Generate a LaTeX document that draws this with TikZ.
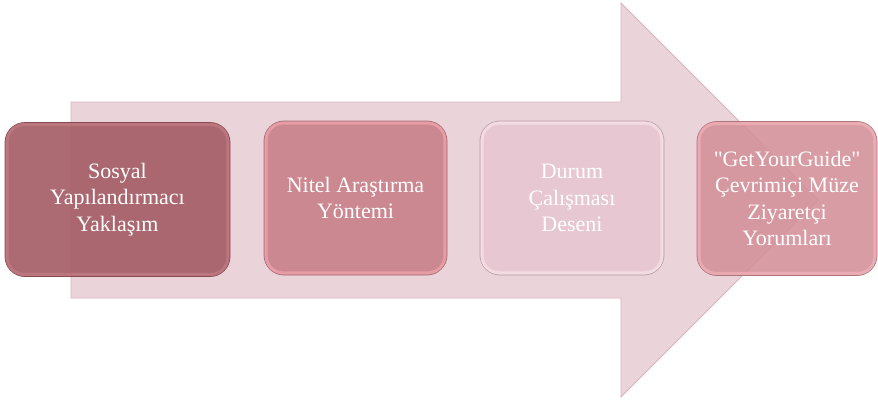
\documentclass[tikz,border=0pt]{standalone}
\usepackage{fontspec}
\setmainfont{Liberation Serif}[Ligatures=TeXOff]
\usetikzlibrary{positioning}
\definecolor{arrowpink}{HTML}{E8CBD3}
\definecolor{arrowedge}{HTML}{D9B3BE}
\definecolor{boxone}{HTML}{A65F67}
\definecolor{boxtwo}{HTML}{CB8890}
\definecolor{boxthree}{HTML}{E7C7D1}
\definecolor{boxfour}{HTML}{D4929A}
\definecolor{rimone}{HTML}{C27A82}
\definecolor{rimtwo}{HTML}{EFA3AB}
\definecolor{rimthree}{HTML}{F8E2EA}
\definecolor{rimfour}{HTML}{F2B0B7}

\begin{document}
\begin{tikzpicture}[x=1pt,y=-1pt,
  stepbox/.style={rounded corners=20pt,minimum height=154pt,inner sep=0pt,
    align=center,text=white,font=\fontsize{22}{26.5}\selectfont,line width=0.8pt},
  steprim/.style={rounded corners=17pt,line width=3pt,draw opacity=0.75},
  bigarrow/.style={fill=arrowpink,fill opacity=0.85,draw=arrowedge,line width=0.8pt}]
\path[use as bounding box] (0,0) rectangle (878,400);
\draw[bigarrow] (71,102) -- (621,102) -- (621,3) -- (818,200) -- (621,397) -- (621,298) -- (71,298) -- cycle;
\node[stepbox,minimum width=225pt,fill=boxone,fill opacity=0.93,text opacity=1,draw=boxone!80!black] (yaklasim) at (117.5,199.5) {Sosyal\\Yapılandırmacı\\Yaklaşım};
\node[stepbox,minimum width=183pt,fill=boxtwo,draw=boxtwo!80!black] (yontem) at (355.5,198) {Nitel Araştırma\\Yöntemi};
\node[stepbox,minimum width=184pt,fill=boxthree,draw=boxthree!80!black] (desen) at (572,198) {Durum\\Çalışması\\Deseni};
\node[stepbox,minimum width=180pt,fill=boxfour,fill opacity=0.9,text opacity=1,draw=boxfour!80!black] (yorumlar) at (787,198.5) {"GetYourGuide"\\Çevrimiçi Müze\\Ziyaretçi\\Yorumları};
\draw[steprim,draw=rimone] ([shift={(2.5,2.5)}]yaklasim.north west) rectangle ([shift={(-2.5,-2.5)}]yaklasim.south east);
\draw[steprim,draw=rimtwo] ([shift={(2.5,2.5)}]yontem.north west) rectangle ([shift={(-2.5,-2.5)}]yontem.south east);
\draw[steprim,draw=rimthree] ([shift={(2.5,2.5)}]desen.north west) rectangle ([shift={(-2.5,-2.5)}]desen.south east);
\draw[steprim,draw=rimfour] ([shift={(2.5,2.5)}]yorumlar.north west) rectangle ([shift={(-2.5,-2.5)}]yorumlar.south east);
\end{tikzpicture}
\end{document}
